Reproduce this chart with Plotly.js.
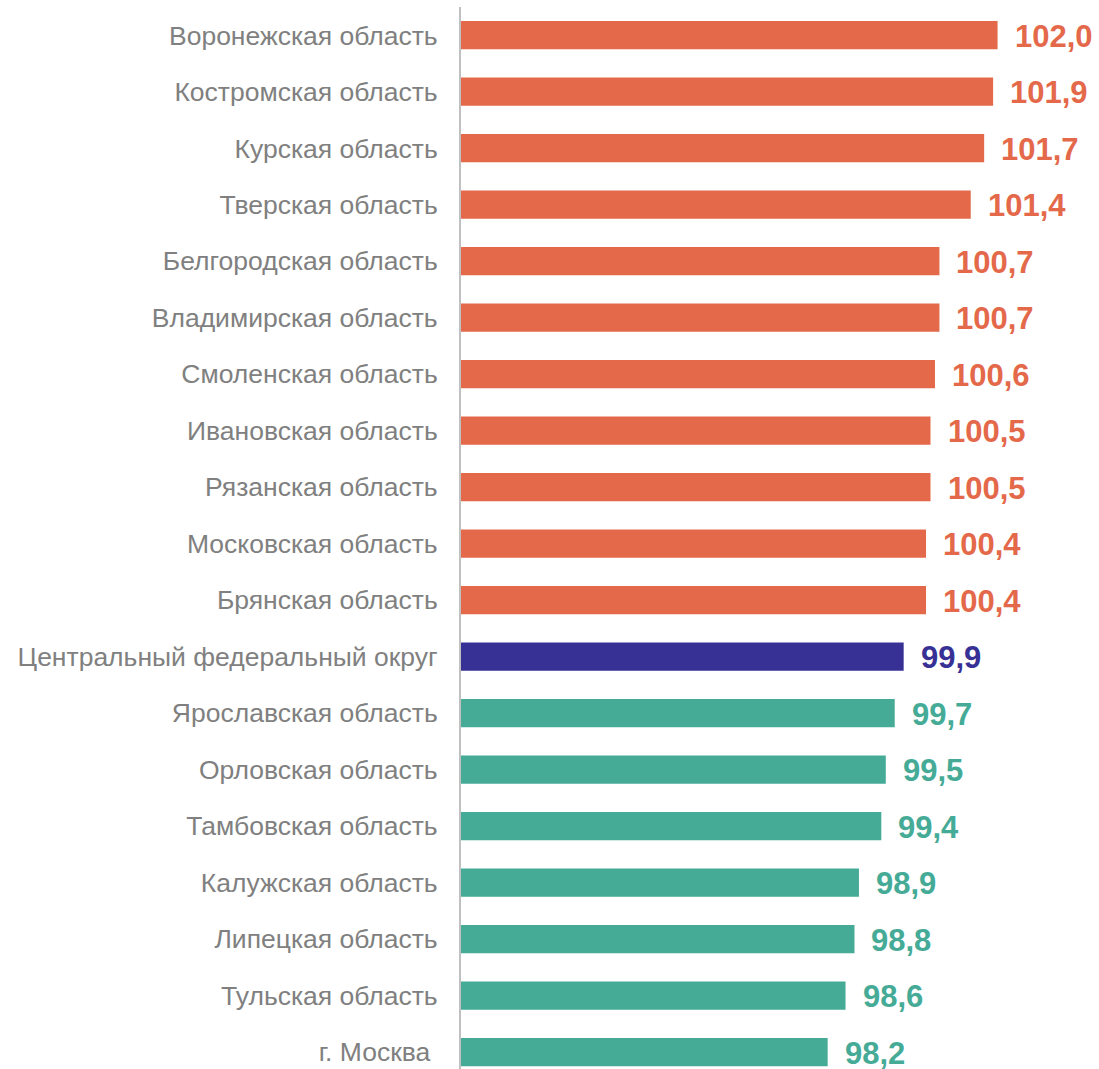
<!DOCTYPE html>
<html><head><meta charset="utf-8">
<script src="https://cdn.plot.ly/plotly-3.0.1.min.js"></script>
<style>html,body{margin:0;padding:0;background:#fff}#c{width:1099px;height:1069px}</style>
</head><body><div id="c"></div>
<script>
const regions = ["Воронежская область","Костромская область","Курская область","Тверская область","Белгородская область","Владимирская область","Смоленская область","Ивановская область","Рязанская область","Московская область","Брянская область","Центральный федеральный округ","Ярославская область","Орловская область","Тамбовская область","Калужская область","Липецкая область","Тульская область","г. Москва "];
const values = [102.0,101.9,101.7,101.4,100.7,100.7,100.6,100.5,100.5,100.4,100.4,99.9,99.7,99.5,99.4,98.9,98.8,98.6,98.2];
const labels = ["102,0","101,9","101,7","101,4","100,7","100,7","100,6","100,5","100,5","100,4","100,4","99,9","99,7","99,5","99,4","98,9","98,8","98,6","98,2"];
const ORANGE="#E4694A", NAVY="#373195", TEAL="#45AB97";
const colors = values.map((v,i)=> regions[i].startsWith("Центральный") ? NAVY : (v>99.9 ? ORANGE : TEAL));
const trace = {type:'bar',orientation:'h',x:values,y:regions,marker:{color:colors},width:0.5,hoverinfo:'none'};
const annotations = values.map((v,i)=>({x:v,y:regions[i],xref:'x',yref:'y',text:labels[i],showarrow:false,xanchor:'left',yanchor:'middle',xshift:15,yshift:-1,font:{family:'Liberation Sans, Arial, sans-serif',size:31,color:colors[i],weight:'bold'}}));
const layout = {
  width:1099,height:1069,margin:{l:461,r:12,t:7,b:0},
  paper_bgcolor:'#fff',plot_bgcolor:'#fff',showlegend:false,
  xaxis:{range:[90,104],visible:false,fixedrange:true},
  yaxis:{type:'category',categoryorder:'array',categoryarray:regions,range:[18.3,-0.5],
    showline:true,linecolor:'#c0c0c0',linewidth:2,ticks:'',showgrid:false,zeroline:false,
    ticklabelstandoff:16,
    tickfont:{family:'Liberation Sans, Arial, sans-serif',size:26.5,color:'#808080'}},
  annotations:annotations
};
Plotly.newPlot('c',[trace],layout,{displayModeBar:false,staticPlot:true});
</script></body></html>
